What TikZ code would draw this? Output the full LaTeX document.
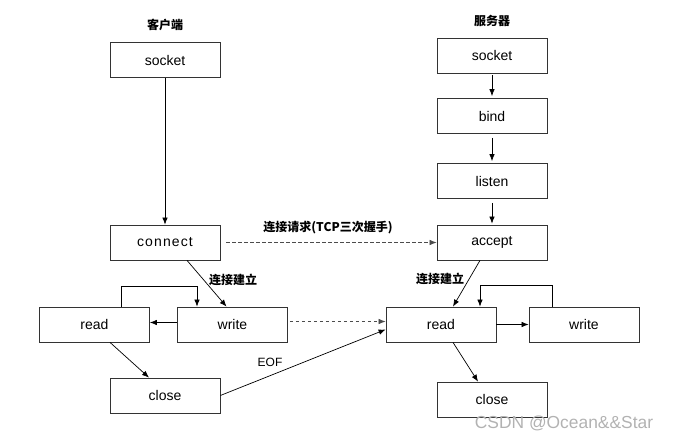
\documentclass[tikz,border=0pt]{standalone}
\usepackage{fontspec}
\setmainfont{Liberation Sans}
\newfontfamily\cjk{Noto Sans CJK SC}
\usetikzlibrary{arrows.meta,calc}
\begin{document}
\begin{tikzpicture}[x=1pt,y=-1pt,
  box/.style={draw=black!80,line width=0.8pt,minimum width=110pt,minimum height=35pt,inner sep=0pt,font=\fontsize{14}{16}\selectfont},
  arr/.style={draw=black,line width=0.7pt,-{Latex[length=7pt,width=5.5pt]}},
  darr/.style={arr,draw=black!70,dash pattern=on 3.5pt off 2.5pt},
  lab/.style={font=\cjk\bfseries\fontsize{12}{14}\selectfont,inner sep=0pt},
]
\useasboundingbox (0,0) rectangle (673,441);
% titles
\node[lab] (tc) at (165,25) {客户端};
\node[lab] (ts) at (492,21) {服务器};
% client
\node[box] (csock) at (165,60) {socket};
\node[box] (conn) at (165,242.5) {\addfontfeature{LetterSpace=8}connect};
\node[box] (cread) at (94.5,324.5) {read};
\node[box] (cwrite) at (232.5,324.5) {write};
\node[box] (cclose) at (165,395.5) {close};
% server
\node[box] (ssock) at (492,55.5) {socket};
\node[box] (bind) at (492,116) {bind};
\node[box] (listen) at (492,181) {listen};
\node[box] (accept) at (492,242.5) {accept};
\node[box] (sread) at (441,324.5) {read};
\node[box] (swrite) at (584,324.5) {write};
\node[box] (sclose) at (492,399.5) {close};
% client arrows
\draw[arr] (csock.south) -- (conn.north);
\draw[arr] ($(conn.south)+(22,0)$) -- ($(cwrite.north)+(-6,0)$);
\draw[arr] ($(cwrite.west)+(0,-2)$) -- ($(cread.east)+(0,-2)$);
\draw[arr] ($(cread.north)+(26.5,0)$) -- ++(0,-20) -| ($(cwrite.north)+(-35.5,0)$);
\draw[arr] ($(cread.south)+(15.5,0)$) -- ($(cclose.north)+(-16,0)$);
\draw[arr] (cclose.east) -- ($(sread.west)+(0,5)$);
% dashed
\draw[darr] ($(conn.east)+(6,0)$) -- (accept.west);
\draw[darr] ($(cwrite.east)+(2,-3)$) -- ($(sread.west)+(0,-3)$);
% server arrows
\draw[arr,shorten <=2pt,shorten >=2pt] (ssock.south) -- (bind.north);
\draw[arr,shorten <=4pt,shorten >=2pt] (bind.south) -- (listen.north);
\draw[arr,shorten <=4pt,shorten >=1pt] (listen.south) -- (accept.north);
\draw[arr] ($(accept.south)+(-12,0)$) -- ($(sread.north)+(12,0)$);
\draw[arr] (sread.east) -- (swrite.west);
\draw[arr] ($(swrite.north)+(-32,0)$) -- ++(0,-21) -| ($(sread.north)+(39,0)$);
\draw[arr] ($(sread.south)+(12,0)$) -- ($(sclose.north)+(-14,0)$);
% labels
\node[lab] (l1) at (328,228) {连接请求(TCP三次握手)};
\node[lab] (l2) at (233,280) {连接建立};
\node[lab] (l3) at (440,279) {连接建立};
\node[font=\fontsize{12}{14}\selectfont,inner sep=0pt] (eof) at (270,362) {EOF};
\node[font=\fontsize{17.4}{20}\selectfont,text=black!30,inner sep=0pt] (wm) at (564,423) {CSDN @Ocean\&\&Star};
\end{tikzpicture}
\end{document}
